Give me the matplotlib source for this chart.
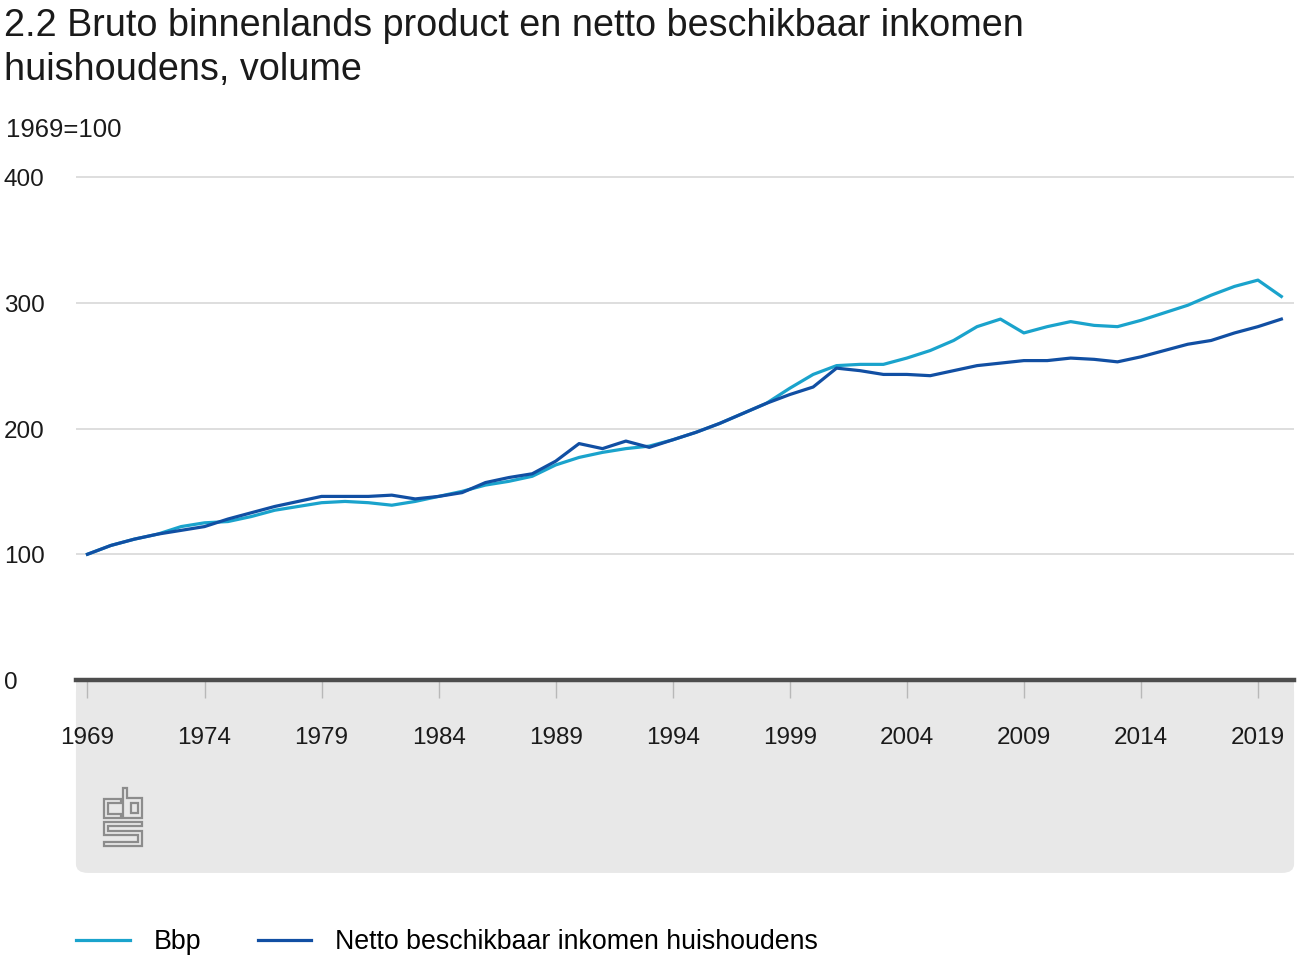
import matplotlib
matplotlib.use("Agg")
import matplotlib.pyplot as plt
import matplotlib.transforms as mtransforms
from matplotlib.patches import FancyBboxPatch, Rectangle, Polygon

plt.rcParams['font.family'] = ['Liberation Sans', 'DejaVu Sans']

# data: volume index, 1969=100
years = list(range(1969, 2021))
bbp = [100, 107, 112, 116, 122, 125, 126, 130, 135, 138, 141, 142, 141, 139, 142, 146,
       150, 155, 158, 162, 171, 177, 181, 184, 186, 191, 197, 204, 212, 220, 232, 243,
       250, 251, 251, 256, 262, 270, 281, 287, 276, 281, 285, 282, 281, 286, 292, 298,
       306, 313, 318, 305]
nbi = [100, 107, 112, 116, 119, 122, 128, 133, 138, 142, 146, 146, 146, 147, 144, 146,
       149, 157, 161, 164, 174, 188, 184, 190, 185, 191, 197, 204, 212, 220, 227, 233,
       248, 246, 243, 243, 242, 246, 250, 252, 254, 254, 256, 255, 253, 257, 262, 267,
       270, 276, 281, 287]
series_names = ['Bbp', 'Netto beschikbaar inkomen huishoudens']
y_ticks = [0, 100, 200, 300, 400]
x_ticks = list(range(1969, 2020, 5))

light = '#1aa3cc'
dark = '#114fa3'

W, H = 1299, 959
fig = plt.figure(figsize=(W / 100, H / 100), dpi=100)


def fx(px):
    return px / W


def fy(py):
    return 1 - py / H


# axes: x 76..1294 px, y-zero at 680 px, 100 units = 125.75 px
ymax = 405
top_px = 680 - ymax * 1.2575
ax = fig.add_axes([fx(76), fy(680), fx(1294) - fx(76), (680 - top_px) / H])
ax.patch.set_visible(False)

ax.plot(years, bbp, color=light, lw=2.3, solid_joinstyle='round', zorder=3, label=series_names[0])
ax.plot(years, nbi, color=dark, lw=2.3, solid_joinstyle='round', zorder=4, label=series_names[1])

ax.set_xlim(1968.51, 2020.54)
ax.set_ylim(0, ymax)
ax.set_yticks(y_ticks)
ax.set_xticks(x_ticks)
ax.yaxis.grid(True, color='#d4d4d4', lw=1.1)
ax.set_axisbelow(True)
for s in ['left', 'right', 'top']:
    ax.spines[s].set_visible(False)
ax.spines['bottom'].set_color('#4d4d4d')
ax.spines['bottom'].set_linewidth(3.2)
ax.spines['bottom'].set_zorder(5)
ax.tick_params(axis='y', length=0, labelleft=False)
ax.tick_params(axis='x', length=13, width=1, color='#b8b8b8', labelbottom=False)

# tick labels
ytrans = mtransforms.blended_transform_factory(fig.transFigure, ax.transData)
for v in y_ticks:
    fig.text(fx(4), v - 2.4, str(v), transform=ytrans, ha='left', va='center',
             fontsize=17.5, color='#1a1a1a')
xtrans = mtransforms.blended_transform_factory(ax.transData, fig.transFigure)
for yr in x_ticks:
    ax.text(yr, fy(738), str(yr), transform=xtrans, ha='center', va='center',
            fontsize=17.5, color='#1a1a1a')

# grey footer panel
panel = FancyBboxPatch((fx(88), fy(864)), fx(1282) - fx(88), fy(692) - fy(864),
                       boxstyle='round,pad=0.0093', transform=fig.transFigure,
                       facecolor='#e8e8e8', edgecolor='none', zorder=-2)
fig.patches.append(panel)
fig.patches.append(Rectangle((fx(76), fy(780)), fx(1294) - fx(76), fy(680) - fy(780),
                             transform=fig.transFigure, facecolor='#e8e8e8',
                             edgecolor='none', zorder=-2))

# cbs logo (outline)
logo = [
    [(121, 799), (104, 799), (104, 818), (121, 818), (121, 814), (108, 814), (108, 803), (121, 803)],
    [(123, 788), (127, 788), (127, 798), (142, 798), (142, 818), (123, 818)],
    [(131, 803), (138, 803), (138, 813), (131, 813)],
    [(142, 822), (104, 822), (104, 835), (138, 835), (138, 842), (104, 842), (104, 846),
     (142, 846), (142, 831), (108, 831), (108, 826), (142, 826)],
]
for pts in logo:
    fig.patches.append(Polygon([(fx(a), fy(b)) for a, b in pts], closed=True,
                               transform=fig.transFigure, fill=False,
                               edgecolor='#8c8c8c', lw=1.6, zorder=-1))

# titles
fig.text(fx(4), fy(36), '2.2 Bruto binnenlands product en netto beschikbaar inkomen',
         fontsize=27.2, color='#1a1a1a', va='baseline')
fig.text(fx(4), fy(80), 'huishoudens, volume', fontsize=27.2, color='#1a1a1a', va='baseline')
fig.text(fx(6), fy(137), '1969=100', fontsize=18.5, color='#1a1a1a', va='baseline')

fig.legend(loc='center left', bbox_to_anchor=(fx(76), fy(942)), ncol=2, frameon=False,
           fontsize=19.3, handlelength=2.0, handletextpad=0.9, columnspacing=2.1,
           borderpad=0, borderaxespad=0)

fig.savefig('out.png', dpi=100)
